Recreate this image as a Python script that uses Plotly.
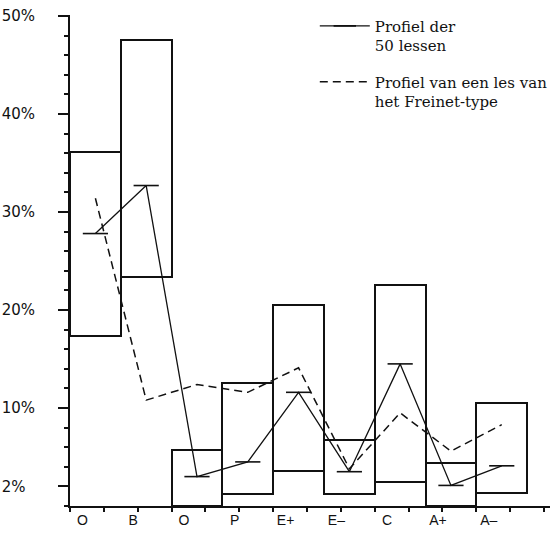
import plotly.graph_objects as go

# Lesson categories along the horizontal axis
categories = ["O", "B", "O", "P", "E+", "E–", "C", "A+", "A–"]

# Spread of the 50 lessons per category (percent of lesson time)
range_low = [17.3, 23.4, 0.0, 1.2, 3.6, 1.2, 2.5, 0.0, 1.3]
range_high = [36.1, 47.5, 5.7, 12.6, 20.5, 6.7, 22.5, 4.4, 10.5]

# Average profile of the 50 lessons
profile_50 = [27.8, 32.7, 3.0, 4.5, 11.6, 3.5, 14.5, 2.1, 4.1]

# Profile of one Freinet-type lesson
profile_freinet = [31.4, 10.8, 12.4, 11.6, 14.1, 3.8, 9.5, 5.6, 8.3]

# Labelled percentages on the vertical axis
y_ticks = [2, 10, 20, 30, 40, 50]

INK = "#111111"
x = list(range(len(categories)))
y_ticktext = [f"{v}%" + ("\u2007" if v < 10 else "") for v in y_ticks]

fig = go.Figure()

# Range boxes: open rectangles from the lowest to the highest share
fig.add_trace(go.Bar(
    x=x,
    y=[hi - lo for lo, hi in zip(range_low, range_high)],
    base=range_low,
    width=1.0,
    marker=dict(color="rgba(0,0,0,0)", line=dict(color=INK, width=2)),
    showlegend=False,
    hoverinfo="skip",
))

fig.add_trace(go.Scatter(
    x=x, y=profile_50,
    mode="lines+markers",
    line=dict(color=INK, width=1.3),
    marker=dict(symbol="line-ew", size=18, color=INK, line=dict(color=INK, width=1.6)),
    name="Profiel der<br>50 lessen",
    legendgroup="a",
))

fig.add_trace(go.Scatter(
    x=x, y=profile_freinet,
    mode="lines",
    line=dict(color=INK, width=1.5, dash="8px,5px"),
    name="Profiel van een les van<br>het Freinet-type",
    legendgroup="b",
))

fig.update_layout(
    width=555, height=535,
    margin=dict(l=70, r=2, t=15, b=29),
    paper_bgcolor="white", plot_bgcolor="white",
    bargap=0,
    showlegend=True,
    legend=dict(
        x=0.51, xanchor="left", y=1.011, yanchor="top",
        font=dict(family="DejaVu Serif", size=15, color=INK),
        valign="top",
        traceorder="grouped",
        tracegroupgap=14,
        itemwidth=50,
        bgcolor="rgba(0,0,0,0)",
    ),
)

fig.update_xaxes(
    range=[-0.5, 8.95],
    tickmode="array", tickvals=x, ticktext=categories,
    ticks="", ticklabelshift=-13, ticklabelstandoff=0,
    tickfont=dict(family="Liberation Sans", size=14, color=INK),
    showline=True, linewidth=2, linecolor=INK,
    showgrid=False, zeroline=False,
    minor=dict(ticks="outside", tickmode="linear", tick0=1.5, dtick=2 / 3,
               ticklen=4, tickwidth=1.5, tickcolor=INK, showgrid=False),
)

fig.update_yaxes(
    range=[0, 50.1],
    tickmode="array", tickvals=y_ticks, ticktext=y_ticktext,
    ticks="outside", ticklen=10, tickwidth=1.5, tickcolor=INK,
    ticklabelstandoff=20,
    tickfont=dict(family="DejaVu Sans", size=15, color=INK),
    showline=True, linewidth=2, linecolor=INK,
    showgrid=False, zeroline=False,
    minor=dict(ticks="outside", tickmode="linear", tick0=0, dtick=2,
               ticklen=4, tickwidth=1.5, tickcolor=INK, showgrid=False),
)

fig.write_html("out.html")
